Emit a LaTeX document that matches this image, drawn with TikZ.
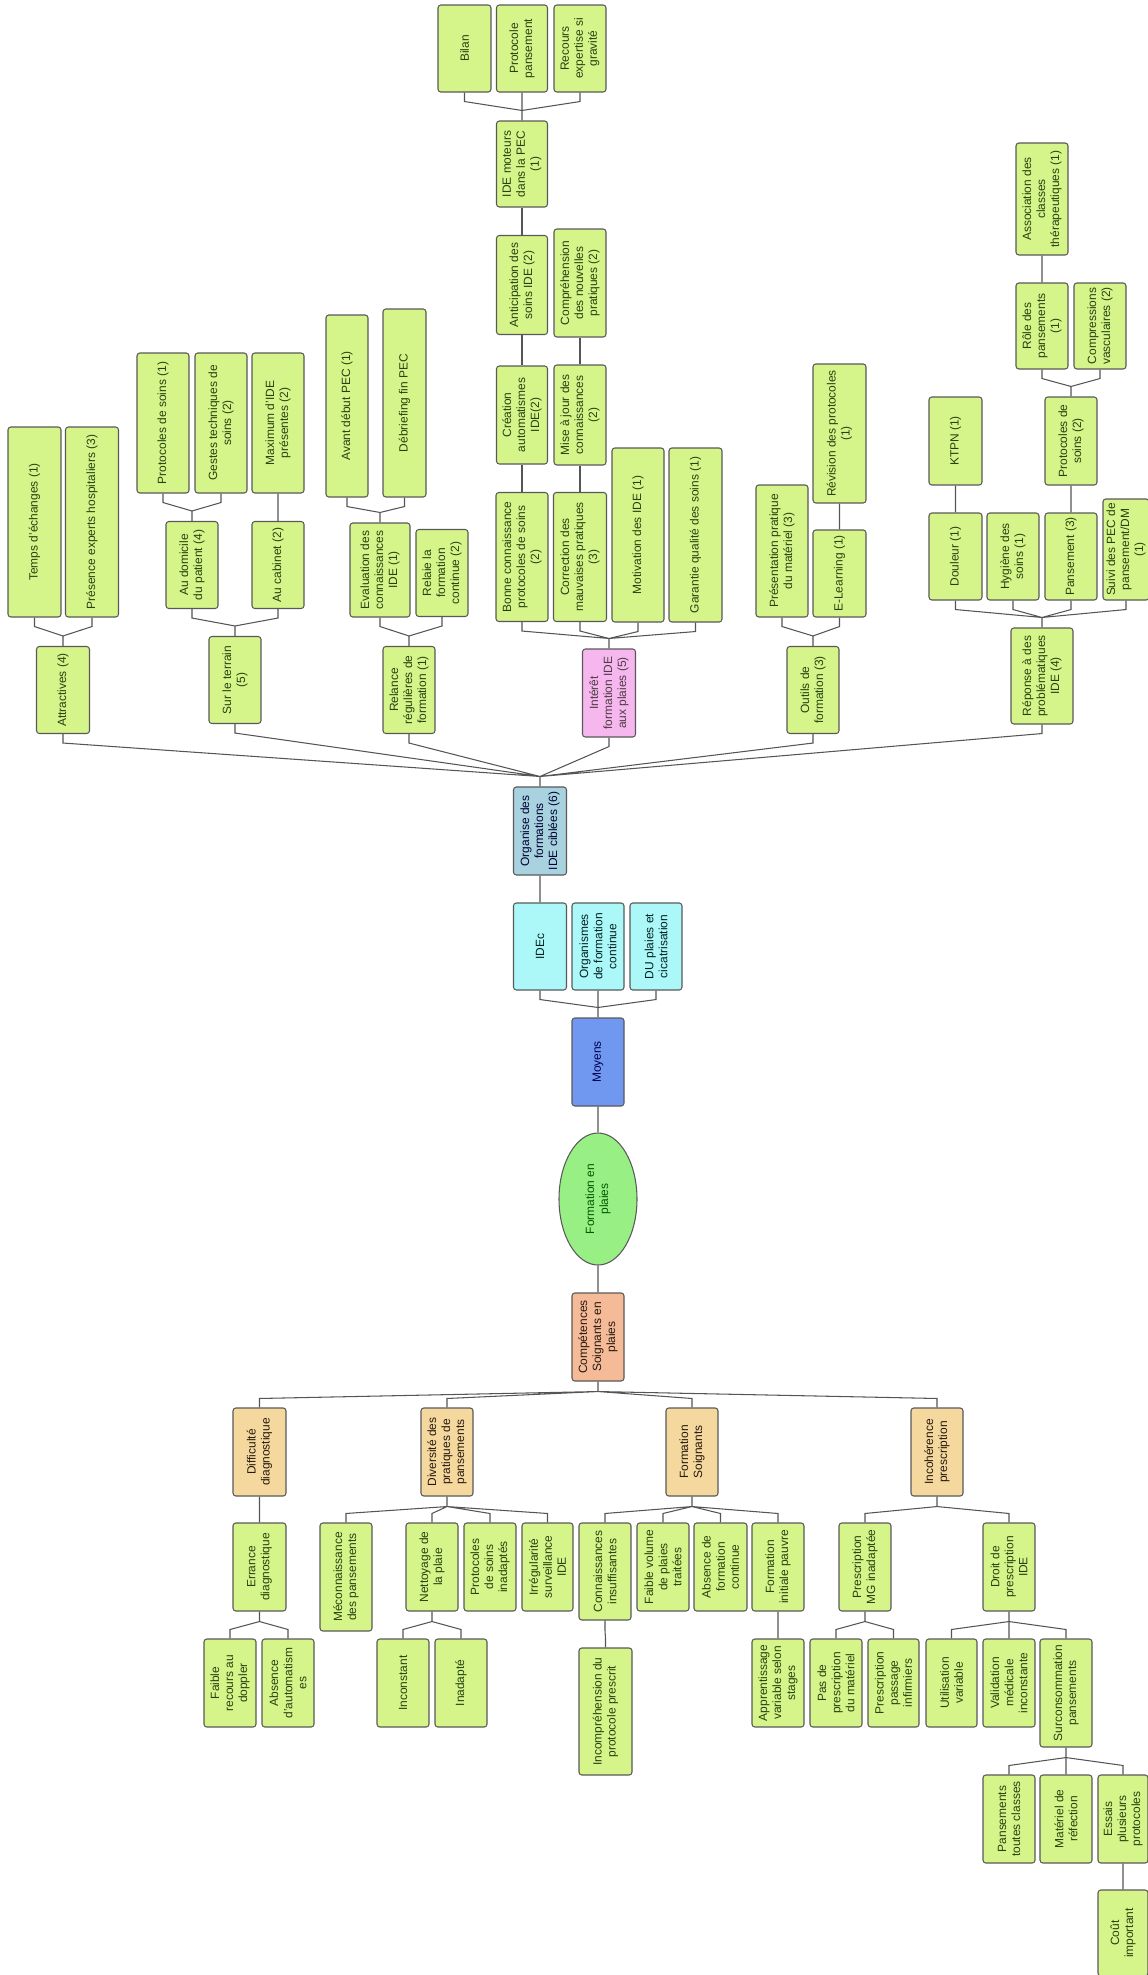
\documentclass[tikz,border=0pt]{standalone}
\usepackage{fontspec}
\setmainfont{Liberation Sans}
\usetikzlibrary{calc,positioning,shapes}
\definecolor{leafc}{RGB}{213,244,138}
\definecolor{orgc}{RGB}{168,210,222}
\definecolor{pinkc}{RGB}{246,182,238}
\definecolor{cyanc}{RGB}{172,248,248}
\definecolor{moyc}{RGB}{112,152,240}
\definecolor{rootc}{RGB}{152,240,132}
\definecolor{compc}{RGB}{245,186,152}
\definecolor{tanc}{RGB}{245,216,158}
\definecolor{txtc}{RGB}{38,66,14}
\definecolor{linec}{RGB}{85,85,85}

\begin{document}
\begin{tikzpicture}[x=0.02cm, y=-0.02cm,
  sz/.style 2 args={minimum width=#1*0.02cm, minimum height=#2*0.02cm}]
\tikzstyle{box}=[rectangle, rounded corners=1.6pt, draw=black!65, line width=0.6pt,
                 rotate=90, align=center, inner sep=1pt, text=txtc,
                 font=\fontsize{6.8}{8}\selectfont]
\tikzstyle{leaf}=[box, fill=leafc]
\tikzstyle{cause}=[box, fill=tanc, text=black!80!brown]
\tikzstyle{link}=[draw=linec, line width=0.6pt]
\tikzstyle{tup}=[link, to path={(\tikztostart.east) -- ++(0,-10)
                 -- ($(\tikztotarget.west)+(0,9)$) -- (\tikztotarget.west)}]
\tikzstyle{tdown}=[link, to path={(\tikztostart.west) -- ++(0,10)
                 -- ($(\tikztotarget.east)+(0,-9)$) -- (\tikztotarget.east)}]
\useasboundingbox (0,0) rectangle (1148,1975);

% centre
\node[box, ellipse, fill=rootc, text=green!35!black, sz={132}{78}] (fp) at (598,1199) {Formation en\\plaies};
\node[box, fill=moyc, text=blue!30!black, sz={88}{52}] (moy) at (598,1062) {Moyens};
\node[box, fill=compc, text=black!80!brown, sz={88}{52}] (comp) at (598,1337) {Compétences\\Soignants en\\plaies};

% moyens
\node[box, fill=cyanc, text=black!75!teal, sz={87}{53}] (idec) at (540,946.5) {IDEc};
\node[box, fill=cyanc, text=black!75!teal, sz={87}{52}] (orgf) at (598,946.5) {Organismes\\de formation\\continue};
\node[box, fill=cyanc, text=black!75!teal, sz={87}{52}] (du) at (656,946.5) {DU plaies et\\cicatrisation};
\node[box, fill=orgc, text=black!80!blue, sz={88}{53}] (org) at (540,831) {Organise des\\formations\\IDE ciblées (6)};

\node[leaf, sz={87}{53}] (attr) at (63,690) {Attractives (4)};
\node[leaf, sz={190}{53}] (tmp) at (34.5,522) {Temps d'échanges (1)};
\node[leaf, sz={190}{53}] (pres) at (92,522) {Présence experts hospitaliers (3)};

\node[leaf, sz={87}{52}] (terr) at (235,680) {Sur le terrain\\(5)};
\node[leaf, sz={87}{52}] (dom) at (192,565) {Au domicile\\du patient (4)};
\node[leaf, sz={87}{52}] (cab) at (278,565) {Au cabinet (2)};
\node[leaf, sz={140}{52}] (psoin) at (163,423) {Protocoles de soins (1)};
\node[leaf, sz={140}{52}] (gest) at (221,423) {Gestes techniques de\\soins (2)};
\node[leaf, sz={140}{52}] (maxi) at (278,423) {Maximum d'IDE\\présentes (2)};

\node[leaf, sz={87}{52}] (rel) at (409,690) {Relance\\régulières de\\formation (1)};
\node[leaf, sz={94}{60}] (eval) at (380,570) {Evaluation des\\connaissances\\IDE (1)};
\node[leaf, sz={87}{52}] (relaie) at (442,573) {Relaie la\\formation\\continue (2)};
\node[leaf, sz={182}{42}] (avant) at (347,406) {Avant début PEC (1)};
\node[leaf, sz={188}{43}] (debr) at (404.5,403) {Débriefing fin PEC};

\node[box, fill=pinkc, text=black!80!magenta, sz={88}{53}] (inter) at (609,693) {Intérêt\\formation IDE\\aux plaies (5)};
\node[leaf, sz={129}{52}] (bonne) at (522,557) {Bonne connaissance\\protocoles de soins\\(2)};
\node[leaf, sz={129}{53}] (corr) at (580,557) {Correction des\\mauvaises pratiques\\(3)};
\node[leaf, sz={174}{52}] (motiv) at (638,535) {Motivation des IDE (1)};
\node[leaf, sz={174}{53}] (garant) at (695.5,535) {Garantie qualité des soins (1)};
\node[leaf, sz={98}{51}] (creat) at (522,415) {Création\\automatismes\\IDE(2)};
\node[leaf, sz={100}{52}] (maj) at (580,415) {Mise à jour des\\connaissances\\(2)};
\node[leaf, sz={99}{51}] (antic) at (522,285) {Anticipation des\\soins IDE (2)};
\node[leaf, sz={108}{52}] (compr) at (580,283) {Compréhension\\des nouvelles\\pratiques (2)};
\node[leaf, sz={86}{51}] (moteur) at (522,164) {IDE moteurs\\dans la PEC\\(1)};
\node[leaf, sz={87}{53}] (bilan) at (464.5,48.5) {Bilan};
\node[leaf, sz={87}{51}] (ppans) at (522,48.5) {Protocole\\pansement};
\node[leaf, sz={87}{52}] (recours) at (580,48.5) {Recours\\expertise si\\gravité};

\node[leaf, sz={87}{52}] (outils) at (813,690) {Outils de\\formation (3)};
\node[leaf, sz={132}{52}] (prpr) at (782,551) {Présentation pratique\\du matériel (3)};
\node[leaf, sz={87}{53}] (elearn) at (839.5,573.5) {E-Learning (1)};
\node[leaf, sz={139}{53}] (revis) at (839.5,433.5) {Révision des protocoles\\(1)};

\node[leaf, sz={96}{62}] (rep) at (1042,676) {Réponse à des\\problématiques\\IDE (4)};
\node[leaf, sz={87}{53}] (doul) at (955.5,556.5) {Douleur (1)};
\node[leaf, sz={87}{52}] (hyg) at (1013,556.5) {Hygiène des\\soins (1)};
\node[leaf, sz={87}{52}] (pans) at (1071,556.5) {Pansement (3)};
\node[leaf, sz={101}{46}] (suivi) at (1126,549.5) {Suivi des PEC de\\pansement/DM\\(1)};
\node[leaf, sz={88}{53}] (ktpn) at (955.5,441) {KTPN (1)};
\node[leaf, sz={88}{52}] (psoin2) at (1071,441) {Protocoles de\\soins (2)};
\node[leaf, sz={86}{52}] (role) at (1042,326) {Rôle des\\pansements\\(1)};
\node[leaf, sz={86}{52}] (compv) at (1100,326) {Compressions\\vasculaires (2)};
\node[leaf, sz={112}{52}] (assoc) at (1042,199) {Association des\\classes\\thérapeutiques (1)};

% competences
\node[cause, sz={88}{53}] (diff) at (259.5,1452) {Difficulté\\diagnostique};
\node[cause, sz={88}{52}] (div) at (447,1452) {Diversité des\\pratiques de\\pansements};
\node[cause, sz={88}{52}] (fsoi) at (692,1452) {Formation\\Soignants};
\node[cause, sz={88}{52}] (incoh) at (937,1452) {Incohérence\\prescription};

\node[leaf, sz={88}{53}] (err) at (259.5,1567) {Errance\\diagnostique};
\node[leaf, sz={88}{52}] (faible) at (230,1683) {Faible\\recours au\\doppler};
\node[leaf, sz={88}{52}] (absa) at (288,1683) {Absence\\d'automatism\\es};

\node[leaf, sz={108}{52}] (mecon) at (346,1577) {Méconnaissance\\des pansements};
\node[leaf, sz={88}{52}] (nett) at (432,1567) {Nettoyage de\\la plaie};
\node[leaf, sz={88}{52}] (psi) at (490,1567) {Protocoles\\de soins\\inadaptés};
\node[leaf, sz={88}{51}] (irreg) at (547.5,1567) {Irrégularité\\surveillance\\IDE};
\node[leaf, sz={88}{52}] (incons) at (403,1683) {Inconstant};
\node[leaf, sz={88}{52}] (inad) at (461,1683) {Inadapté};

\node[leaf, sz={97}{52}] (conn) at (605,1571.5) {Connaissances\\insuffisantes};
\node[leaf, sz={88}{52}] (fvol) at (663,1567) {Faible volume\\de plaies\\traitées};
\node[leaf, sz={88}{53}] (absf) at (720.5,1567) {Absence de\\formation\\continue};
\node[leaf, sz={88}{52}] (finit) at (778,1567) {Formation\\initiale pauvre};
\node[leaf, sz={127}{53}] (incomp) at (605.5,1711.5) {Incompréhension du\\protocole prescrit};
\node[leaf, sz={88}{52}] (appr) at (778,1683) {Apprentissage\\variable selon\\stages};

\node[leaf, sz={88}{52}] (pmg) at (865,1567) {Prescription\\MG inadaptée};
\node[leaf, sz={88}{52}] (droit) at (1009,1567) {Droit de\\prescription\\IDE};
\node[leaf, sz={88}{52}] (pasp) at (836,1683) {Pas de\\prescription\\du matériel};
\node[leaf, sz={88}{51}] (ppas) at (893.5,1683) {Prescription\\passage\\infirmiers};
\node[leaf, sz={88}{51}] (util) at (951.5,1683) {Utilisation\\variable};
\node[leaf, sz={88}{52}] (valid) at (1009,1683) {Validation\\médicale\\inconstante};
\node[leaf, sz={108}{52}] (surc) at (1066,1693) {Surconsommation\\pansements};
\node[leaf, sz={88}{52}] (ptc) at (1009,1819) {Pansements\\toutes classes};
\node[leaf, sz={88}{52}] (matr) at (1066,1819) {Matériel de\\réfection};
\node[leaf, sz={88}{50}] (essais) at (1123,1819) {Essais\\plusieurs\\protocoles};
\node[leaf, sz={86}{50}] (cout) at (1123,1933) {Coût\\important};

% liens vers le haut
\draw[tup] (fp) to (moy) (moy) to (idec) (moy) to (orgf) (moy) to (du) (idec) to (org);
\draw[tup] (org) to (attr) (org) to (terr) (org) to (rel) (org) to (inter) (org) to (outils) (org) to (rep);
\draw[tup] (attr) to (tmp) (attr) to (pres);
\draw[tup] (terr) to (dom) (terr) to (cab) (dom) to (psoin) (dom) to (gest) (cab) to (maxi);
\draw[tup] (rel) to (eval) (rel) to (relaie) (eval) to (avant) (eval) to (debr);
\draw[tup] (inter) to (bonne) (inter) to (corr) (inter) to (motiv) (inter) to (garant);
\draw[tup] (bonne) to (creat) (creat) to (antic) (antic) to (moteur);
\draw[tup] (moteur) to (bilan) (moteur) to (ppans) (moteur) to (recours);
\draw[tup] (corr) to (maj) (maj) to (compr);
\draw[tup] (outils) to (prpr) (outils) to (elearn) (elearn) to (revis);
\draw[tup] (rep) to (doul) (rep) to (hyg) (rep) to (pans) (rep) to (suivi);
\draw[tup] (doul) to (ktpn) (pans) to (psoin2) (psoin2) to (role) (psoin2) to (compv) (role) to (assoc);

% liens vers le bas
\draw[tdown] (fp) to (comp) (comp) to (diff) (comp) to (div) (comp) to (fsoi) (comp) to (incoh);
\draw[tdown] (diff) to (err) (err) to (faible) (err) to (absa);
\draw[tdown] (div) to (mecon) (div) to (nett) (div) to (psi) (div) to (irreg);
\draw[tdown] (nett) to (incons) (nett) to (inad);
\draw[tdown] (fsoi) to (conn) (fsoi) to (fvol) (fsoi) to (absf) (fsoi) to (finit);
\draw[tdown] (conn) to (incomp) (finit) to (appr);
\draw[tdown] (incoh) to (pmg) (incoh) to (droit) (pmg) to (pasp) (pmg) to (ppas);
\draw[tdown] (droit) to (util) (droit) to (valid) (droit) to (surc);
\draw[tdown] (surc) to (ptc) (surc) to (matr) (surc) to (essais) (essais) to (cout);
\end{tikzpicture}
\end{document}
